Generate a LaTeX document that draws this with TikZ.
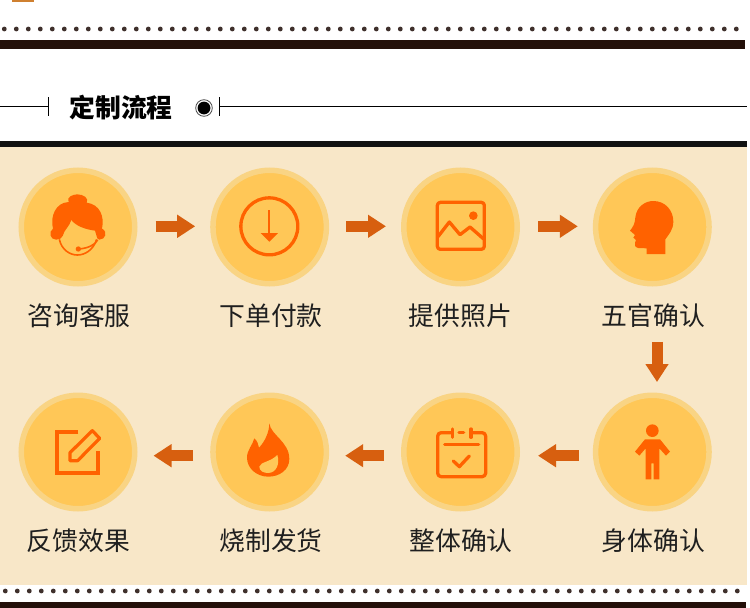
\documentclass[tikz,border=0pt]{standalone}
\usepackage{fontspec}
\setmainfont{Noto Sans CJK SC}
\usetikzlibrary{arrows.meta}
\definecolor{bgc}{HTML}{F8E7C8}
\definecolor{ringc}{HTML}{F9D484}
\definecolor{discc}{HTML}{FFC757}
\definecolor{iconc}{HTML}{FF6200}
\definecolor{arrc}{HTML}{D75F0F}
\definecolor{barc}{HTML}{231009}
\definecolor{dotc}{HTML}{3F302C}
\tikzset{
  disc/.style={circle,draw=ringc,fill=discc,line width=5.5pt,minimum size=113.5pt,inner sep=0pt},
  lab/.style={font=\fontsize{25.8pt}{28pt}\selectfont,text=black!88,inner sep=0pt,anchor=center},
  flow/.style={draw=arrc,line width=11pt,-{Triangle[length=18pt,width=22pt]}},
  zoomed/.style={x=0.33333pt,y=-0.33333pt},
  ico/.style={draw=iconc,line width=3.3pt,fill=none,line join=round,line cap=round},
}
\begin{document}
\begin{tikzpicture}[x=1pt,y=-1pt]
\useasboundingbox (0,0) rectangle (750,608);
\fill[white] (0,0) rectangle (750,608);
% top
\fill[fill=brown!75!orange] (12,0) rectangle (34,2);
\foreach \i in {0,...,61} \fill[dotc] (4.3+12*\i,29) circle (2.4pt);
\fill[barc] (0,40) rectangle (745,49);
% heading
\coordinate (hl0) at (0,106.5);
\coordinate (hl1) at (48.5,106.5);
\coordinate (hr0) at (219,106.5);
\coordinate (hr1) at (747,106.5);
\draw[black,line width=0.9pt] (hl0) -- (hl1);
\draw[black,line width=0.9pt] (hr0) -- (hr1);
\draw[black,line width=0.9pt] (48.5,97) -- (48.5,116);
\draw[black,line width=0.9pt] (219,97) -- (219,116);
\fill[black] (204,108) circle (6.4pt);
\draw[black!70,line width=0.8pt] (204,108) circle (8.3pt);
\node[font=\fontsize{25.8pt}{28pt}\selectfont\bfseries,inner sep=0pt] (title) at (121,107.5) {定制流程};
% panel
\fill[bgc] (0,147) rectangle (747,585);
\fill[black!93] (0,141) rectangle (747,147);
\foreach \i in {0,...,61} \fill[dotc] (5.3+12*\i,591) circle (2.4pt);
\fill[barc] (0,602) rectangle (746,608);
% discs
\node[disc] (n1) at (78,227) {};
\node[disc] (n2) at (269.7,227) {};
\node[disc] (n3) at (460.5,227) {};
\node[disc] (n4) at (652.3,227) {};
\node[disc] (n5) at (652.3,452) {};
\node[disc] (n6) at (460.5,452) {};
\node[disc] (n7) at (269.7,452) {};
\node[disc] (n8) at (78,452) {};
% labels
\node[lab] (l1) at (79,315.7) {咨询客服};
\node[lab] (l2) at (271,315.7) {下单付款};
\node[lab] (l3) at (460.5,315.7) {提供照片};
\node[lab] (l4) at (653.5,315.7) {五官确认};
\node[lab] (l5) at (653.5,540.7) {身体确认};
\node[lab] (l6) at (461,540.7) {整体确认};
\node[lab] (l7) at (271,540.7) {烧制发货};
\node[lab] (l8) at (78.5,540.7) {反馈效果};
% arrows
\draw[flow,shorten <=18pt,shorten >=15pt] ([yshift=0.7pt]n1.east) -- ([yshift=0.7pt]n2.west);
\draw[flow,shorten <=17pt,shorten >=15pt] ([yshift=0.7pt]n2.east) -- ([yshift=0.7pt]n3.west);
\draw[flow,shorten <=18pt,shorten >=15pt] ([yshift=0.7pt]n3.east) -- ([yshift=0.7pt]n4.west);
\draw[flow,shorten <=55.3pt,shorten >=10.5pt] ([xshift=4.7pt]n4.south) -- ([xshift=4.7pt]n5.north);
\draw[flow,shorten <=14pt,shorten >=18pt] ([yshift=-3.7pt]n5.west) -- ([yshift=-3.7pt]n6.east);
\draw[flow,shorten <=17pt,shorten >=16pt] ([yshift=-3.7pt]n6.west) -- ([yshift=-3.7pt]n7.east);
\draw[flow,shorten <=17pt,shorten >=16pt] ([yshift=-3.7pt]n7.west) -- ([yshift=-3.7pt]n8.east);
% icon 1
\begin{scope}[shift={(0,160)},zoomed]
\fill[iconc] (168,239) .. controls (150,239) and (145,215) .. (159,206)
 .. controls (150,170) and (166,128) .. (206,126) .. controls (198,112) and (218,103) .. (232,103)
 .. controls (250,103) and (268,115) .. (260,128) .. controls (300,133) and (314,170) .. (306,206)
 .. controls (324,215) and (317,239) .. (298,239) .. controls (290,239) and (290,225) .. (285,212)
 .. controls (255,208) and (228,198) .. (214,180) .. controls (208,200) and (192,210) .. (188,228)
 .. controls (185,236) and (177,239) .. (168,239) -- cycle;
\draw[iconc,line width=1.6pt] (178,238) .. controls (185,270) and (210,285) .. (232,285) .. controls (255,285) and (280,270) .. (290,238);
\draw[iconc,line width=1.6pt] (293,240) .. controls (285,255) and (265,264) .. (238,267);
\fill[iconc] (235,267) circle (8);
\end{scope}
% icon 2
\begin{scope}[shift={(0,160)},zoomed]
\draw[ico] (808,199) circle (85.5);
\draw[iconc,line width=2pt] (808,150) -- (808,225);
\fill[iconc] (782,219) -- (834,219) -- (808,245) -- cycle;
\end{scope}
% icon 3
\begin{scope}[shift={(390,160)},zoomed]
\draw[ico,rounded corners=3pt] (142,127) rectangle (283,268);
\fill[iconc] (250,167) circle (13);
\draw[ico] (144,230) -- (178,186) -- (210,224) -- (240,201) -- (281,237);
\end{scope}
% icon 4
\begin{scope}[shift={(390,160)},zoomed]
\fill[iconc] (826,282) -- (770,282) -- (770,265) -- (745,264) .. controls (735,262) and (733,255) .. (735,248)
 -- (738,240) -- (730,233) -- (735,225) -- (720,212) .. controls (730,200) and (735,190) .. (736,172)
 .. controls (740,140) and (765,123) .. (790,123) .. controls (825,123) and (850,150) .. (850,185)
 .. controls (850,210) and (835,225) .. (826,238) -- cycle;
\end{scope}
% icon 5
\begin{scope}[shift={(390,385)},zoomed]
\fill[iconc] (787,137) circle (19);
\fill[iconc] (765,163) -- (810,163) -- (840,200) -- (828,212) -- (808,190) -- (808,283) -- (791,283) -- (791,235) -- (784,235) -- (784,283) -- (767,283) -- (767,190) -- (748,212) -- (735,200) -- cycle;
\end{scope}
% icon 6
\begin{scope}[shift={(390,385)},zoomed]
\draw[ico,rounded corners=3.5pt] (183,143) -- (143,143) -- (143,275) -- (287,275) -- (287,143) -- (247,143);
\draw[ico] (207,143) -- (221,143);
\draw[ico] (187,132) -- (187,157);
\draw[ico] (243,132) -- (243,157);
\draw[ico] (164,179) -- (266,179);
\draw[ico] (190,228) -- (208,245) -- (238,213);
\end{scope}
% icon 7
\begin{scope}[shift={(0,385)},zoomed]
\fill[iconc] (808,115) .. controls (812,150) and (868,170) .. (868,222)
 .. controls (868,255) and (838,275) .. (805,275) .. controls (770,275) and (741,250) .. (741,218)
 .. controls (741,195) and (758,180) .. (763,160) .. controls (772,168) and (775,178) .. (777,188)
 .. controls (795,170) and (808,140) .. (808,115) -- cycle;
\fill[discc] (778,245) .. controls (782,230) and (810,232) .. (832,210)
 .. controls (840,235) and (830,263) .. (805,264) .. controls (790,264) and (778,258) .. (778,245) -- cycle;
\end{scope}
% icon 8
\begin{scope}[shift={(0,385)},zoomed]
\draw[iconc,line width=3.8pt,line join=miter] (235,141) -- (170,141) -- (170,265) -- (293,265) -- (293,197);
\draw[iconc,line width=3.2pt,line join=round] (210,203) -- (277,137) -- (299,160) -- (233,227) -- (210,227) -- cycle;
\end{scope}
\end{tikzpicture}
\end{document}
